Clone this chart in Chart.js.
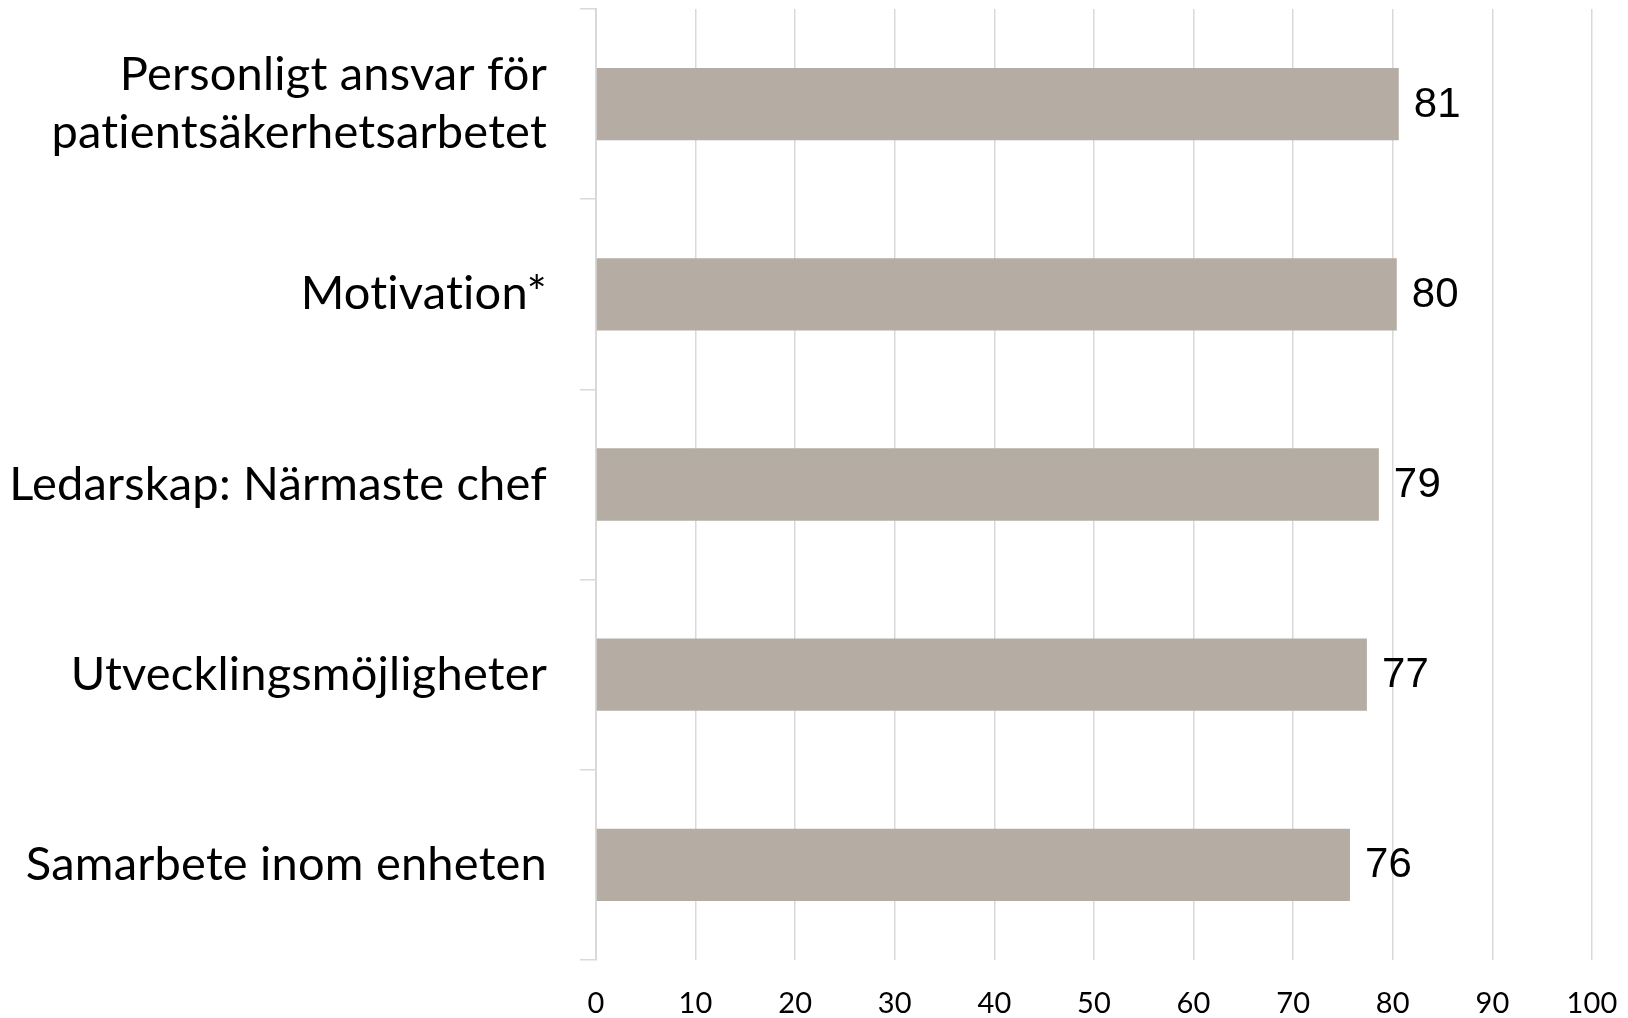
<!DOCTYPE html>
<html>
<head>
<meta charset="utf-8">
<script src="https://cdn.jsdelivr.net/npm/chart.js@4"></script>
<style>
  html, body { margin: 0; padding: 0; background: #fff; }
  #wrap { width: 1628px; height: 1018px; }
</style>
</head>
<body>
<div id="wrap"><canvas id="chart" width="1628" height="1018"></canvas></div>
<script>
const categories = [
  ["Personligt ansvar för", "patientsäkerhetsarbetet"],
  "Motivation*",
  "Ledarskap: Närmaste chef",
  "Utvecklingsmöjligheter",
  "Samarbete inom enheten"
];
const values = [80.6, 80.4, 78.6, 77.4, 75.7];
const valueLabels = ["81", "80", "79", "77", "76"];
const xTicks = [0, 10, 20, 30, 40, 50, 60, 70, 80, 90, 100];

const GRID = "#d9d9d9";

// no ligatures (Lato joins "ti" otherwise)
const noLigatures = {
  id: "noLigatures",
  beforeDraw(chart) {
    chart.ctx.textRendering = "optimizeSpeed";
    chart.ctx.letterSpacing = "0.2px";
  }
};

// writes the value next to the end of each bar
const barValues = {
  id: "barValues",
  afterDatasetsDraw(chart) {
    const ctx = chart.ctx;
    const meta = chart.getDatasetMeta(0);
    ctx.save();
    ctx.font = "42px 'Liberation Sans', Arial, sans-serif";
    ctx.fillStyle = "#000";
    ctx.textAlign = "left";
    ctx.textBaseline = "middle";
    meta.data.forEach((bar, i) => {
      ctx.fillText(valueLabels[i], bar.x + 15, bar.y + 1);
    });
    ctx.restore();
  }
};

new Chart(document.getElementById("chart"), {
  type: "bar",
  data: {
    labels: categories,
    datasets: [{
      data: values,
      backgroundColor: "#b5ada4",
      barPercentage: 0.38,
      categoryPercentage: 1
    }]
  },
  options: {
    indexAxis: "y",
    responsive: false,
    animation: false,
    layout: { padding: { top: 9, right: 36, left: 0, bottom: 0 } },
    plugins: {
      legend: { display: false },
      tooltip: { enabled: false }
    },
    scales: {
      x: {
        min: 0,
        max: 100,
        afterBuildTicks: scale => {
          scale.ticks = xTicks.map(v => ({ value: v }));
        },
        afterFit: scale => {
          scale.height = 58;
          scale.paddingLeft = 0;
          scale.paddingRight = 0;
        },
        grid: { color: GRID, lineWidth: 1.5, drawTicks: false },
        border: { display: false },
        ticks: {
          padding: 26,
          color: "#000",
          font: { family: "Lato, 'Open Sans', sans-serif", size: 29 }
        }
      },
      y: {
        afterFit: scale => {
          scale.width = 596;
          scale.paddingTop = 0;
          scale.paddingBottom = 0;
        },
        grid: {
          drawOnChartArea: false,
          tickLength: 16,
          color: GRID,
          lineWidth: 1.5,
          offset: true
        },
        border: { display: true, color: GRID, width: 2 },
        ticks: {
          padding: 33,
          color: "#000",
          font: { family: "Lato, 'Open Sans', sans-serif", size: 47, lineHeight: 1.24 }
        }
      }
    }
  },
  plugins: [noLigatures, barValues]
});
</script>
</body>
</html>
